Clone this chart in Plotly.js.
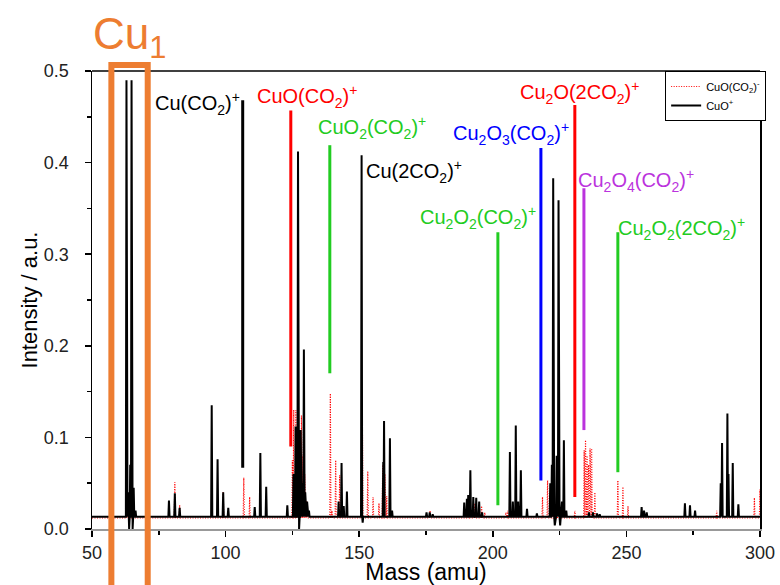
<!DOCTYPE html>
<html>
<head>
<meta charset="utf-8">
<script src="https://cdn.plot.ly/plotly-3.0.1.min.js"></script>
<style>
  html, body { margin: 0; padding: 0; background: #fff; }
  #chart { width: 780px; height: 585px; }
</style>
</head>
<body>
<div id="chart"></div>
<script>
// ---- Data ----
// CuO+ (black, solid) : peak masses (amu) and intensities (a.u.)
const cuoPlusMass = [62.9, 63.5, 63.9, 64.3, 64.8, 65.2, 65.6, 66.3,
  78.8, 81.0, 82.8, 94.8, 97.0, 99.1, 101.0, 110.9, 113.0, 115.2,
  123.1, 125.4, 126.2, 126.7, 127.1, 127.5, 128.1, 128.7, 129.3, 129.8, 130.5, 131.2,
  142.3, 143.4, 144.2, 145.4, 150.9, 151.3,
  159.0, 159.3, 161.5, 162.3, 175.2, 176.4, 177.5,
  189.3, 190.3, 190.8, 191.6, 192.7, 193.8, 194.9, 196.0,
  206.4, 207.5, 208.6, 209.5, 210.5, 212.8, 216.5,
  221.5, 222.1, 222.6, 223.2, 223.9, 224.6, 225.2, 225.9, 226.6, 227.5,
  236.0, 237.5, 239.0, 240.0, 255.7, 256.6, 257.6,
  271.9, 273.8, 275.7, 285.3, 285.8, 287.8, 288.2, 289.8, 291.9];
const cuoPlusInt = [0.490, 0.040, 0.000, 0.070, 0.490, 0.000, 0.045, 0.020,
  0.031, 0.039, 0.023, 0.135, 0.076, 0.040, 0.023, 0.024, 0.083, 0.046,
  0.026, 0.060, 0.112, 0.050, 0.412, 0.000, 0.108, 0.050, 0.196, 0.040, 0.030, 0.020,
  0.030, 0.072, 0.025, 0.041, 0.408, 0.007,
  0.073, 0.118, 0.099, 0.020, 0.018, 0.018, 0.016,
  0.029, 0.033, 0.037, 0.064, 0.035, 0.034, 0.030, 0.018,
  0.084, 0.030, 0.113, 0.030, 0.064, 0.022, 0.017,
  0.050, 0.070, 0.383, 0.004, 0.080, 0.359, 0.004, 0.030, 0.097, 0.020,
  0.018, 0.018, 0.017, 0.016, 0.024, 0.020, 0.018,
  0.028, 0.026, 0.020, 0.050, 0.094, 0.126, 0.060, 0.072, 0.027];
const cuoPlusBaseline = 0.0135;

// CuO(CO2)- (red, dotted)
const cuoCo2Mass = [63.0, 64.9, 81.0, 82.8, 99.1, 106.8, 109.0,
  125.0, 125.5, 126.3, 127.0, 127.7, 128.4, 129.0, 129.6, 130.3,
  139.2, 139.8, 141.2, 142.7, 151.2, 153.2, 155.2, 157.4, 158.8, 159.6, 160.3,
  176.5, 191.0, 193.0, 195.8, 197.0, 204.9, 205.6,
  218.6, 220.5, 222.4, 224.0, 230.7,
  234.2, 234.7, 235.3, 235.8, 236.4, 237.0, 238.2,
  246.8, 248.7, 250.6, 283.8, 297.9, 300.0];
const cuoCo2Int = [0.072, 0.050, 0.051, 0.026, 0.040, 0.056, 0.035,
  0.075, 0.130, 0.130, 0.120, 0.100, 0.124, 0.080, 0.060, 0.030,
  0.148, 0.020, 0.075, 0.059, 0.112, 0.063, 0.035, 0.028, 0.070, 0.060, 0.036,
  0.020, 0.030, 0.028, 0.025, 0.018, 0.018, 0.020,
  0.035, 0.053, 0.070, 0.060, 0.020,
  0.086, 0.097, 0.080, 0.070, 0.088, 0.088, 0.040,
  0.053, 0.046, 0.025, 0.020, 0.034, 0.043];
const cuoCo2Baseline = 0.012;

// Assignment markers (mass, line top, line bottom) and labels
const markerLabels = ['Cu(CO<sub>2</sub>)<sup>+</sup>', 'CuO(CO<sub>2</sub>)<sup>+</sup>',
  'CuO<sub>2</sub>(CO<sub>2</sub>)<sup>+</sup>', 'Cu(2CO<sub>2</sub>)<sup>+</sup>',
  'Cu<sub>2</sub>O<sub>2</sub>(CO<sub>2</sub>)<sup>+</sup>', 'Cu<sub>2</sub>O<sub>3</sub>(CO<sub>2</sub>)<sup>+</sup>',
  'Cu<sub>2</sub>O(2CO<sub>2</sub>)<sup>+</sup>', 'Cu<sub>2</sub>O<sub>4</sub>(CO<sub>2</sub>)<sup>+</sup>',
  'Cu<sub>2</sub>O<sub>2</sub>(2CO<sub>2</sub>)<sup>+</sup>'];
const markerMass = [106.4, 124.4, 139.0, null, 201.9, 218.0, 230.7, 234.1, 246.8];
const markerTop = [0.468, 0.457, 0.419, null, 0.324, 0.416, 0.463, 0.372, 0.324];
const markerBottom = [0.067, 0.090, 0.170, null, 0.026, 0.053, 0.035, 0.108, 0.062];

// ---- Build stick-spectrum traces from the peak tables ----
function spectrum(mass, inten, base, hw) {
  const idx = mass.map((m, i) => i).sort((a, b) => mass[a] - mass[b]);
  const xs = [50], ys = [base];
  idx.forEach(i => {
    xs.push(mass[i] - hw, mass[i], mass[i] + hw);
    ys.push(base, inten[i], base);
  });
  xs.push(300); ys.push(base);
  return {x: xs, y: ys};
}
const red = spectrum(cuoCo2Mass, cuoCo2Int, cuoCo2Baseline, 0.22);
const blk = spectrum(cuoPlusMass, cuoPlusInt, cuoPlusBaseline, 0.22);

const FONT = 'Liberation Sans, Arial, sans-serif';
const colors = ['#000000', '#ff0000', '#22cc22', '#000000', '#22cc22', '#0000ff', '#ff0000', '#bb33dd', '#22cc22'];
// label anchor positions (data coords) and alignment
const labelPos = [
  {x: 105.6, y: 0.465, xa: 'right'},
  {x: 111.5, y: 0.472, xa: 'left'},
  {x: 134.3, y: 0.438, xa: 'left'},
  {x: 152.2, y: 0.390, xa: 'left'},
  {x: 172.3, y: 0.340, xa: 'left'},
  {x: 184.8, y: 0.432, xa: 'left'},
  {x: 209.8, y: 0.477, xa: 'left'},
  {x: 231.5, y: 0.380, xa: 'left'},
  {x: 246.5, y: 0.328, xa: 'left'}
];

const shapes = [];
const annotations = [];
markerLabels.forEach((t, i) => {
  if (markerMass[i] !== null) {
    shapes.push({type: 'line', xref: 'x', yref: 'y', x0: markerMass[i], x1: markerMass[i],
      y0: markerBottom[i], y1: markerTop[i], line: {color: colors[i], width: 3}, layer: 'above'});
  }
  annotations.push({text: t, x: labelPos[i].x, y: labelPos[i].y, xref: 'x', yref: 'y',
    xanchor: labelPos[i].xa, yanchor: 'middle', showarrow: false,
    font: {family: FONT, size: 20, color: colors[i]}, borderpad: 0});
});

// top border
shapes.push({type: 'line', xref: 'paper', yref: 'paper', x0: 0, x1: 1, y0: 1, y1: 1,
  line: {color: '#000', width: 1.5}});
// orange Cu1 frame
shapes.push({type: 'rect', xref: 'paper', yref: 'paper', x0: 0.029, x1: 0.0834, y0: -0.3, y1: 1.013,
  line: {color: '#ED7D31', width: 6}, layer: 'above'});
annotations.push({text: 'Cu<sub>1</sub>', xref: 'paper', yref: 'paper', x: 0.056, y: 1.075,
  xanchor: 'center', yanchor: 'middle', showarrow: false,
  font: {family: FONT, size: 44, color: '#ED7D31'}});

const data = [
  {x: red.x, y: red.y, type: 'scatter', mode: 'lines', name: 'CuO(CO<sub>2</sub>)<sup>-</sup>',
   line: {color: '#ff0000', width: 1.2, dash: '1px,1.5px'}},
  {x: blk.x, y: blk.y, type: 'scatter', mode: 'lines', name: 'CuO<sup>+</sup>',
   line: {color: '#000000', width: 2}}
];

const layout = {
  width: 780, height: 585,
  margin: {l: 92, r: 20, t: 71, b: 56},
  paper_bgcolor: '#fff', plot_bgcolor: '#fff',
  font: {family: FONT, color: '#222'},
  showlegend: true,
  legend: {x: 0.858, y: 1, xanchor: 'left', yanchor: 'top', bgcolor: '#fff',
    bordercolor: '#000', borderwidth: 1, font: {family: FONT, size: 11, color: '#000'},
    tracegroupgap: 0, itemwidth: 30},
  xaxis: {range: [50, 300], tickmode: 'linear', tick0: 50, dtick: 50, ticks: 'outside', ticklen: 6,
    tickcolor: '#000', tickwidth: 1.5, showgrid: false, zeroline: false, showline: true,
    linecolor: '#999', linewidth: 2, tickfont: {family: FONT, size: 18, color: '#222'},
    minor: {dtick: 25, ticks: 'outside', ticklen: 4, tickcolor: '#000', showgrid: false},
    title: {text: 'Mass (amu)', font: {family: FONT, size: 23, color: '#000'}, standoff: 2}},
  yaxis: {range: [0, 0.5], tickmode: 'linear', tick0: 0, dtick: 0.1, tickformat: '.1f',
    ticks: 'outside', ticklen: 6, tickcolor: '#000', tickwidth: 1.5, showgrid: false, zeroline: false,
    showline: true, linecolor: '#000', linewidth: 1.5, mirror: true, ticklabelstandoff: 12,
    tickfont: {family: FONT, size: 18, color: '#222'},
    minor: {dtick: 0.05, ticks: 'outside', ticklen: 4, tickcolor: '#000', showgrid: false},
    title: {text: 'Intensity / a.u.', font: {family: FONT, size: 22, color: '#000'}, standoff: 0}},
  shapes: shapes,
  annotations: annotations
};

Plotly.newPlot('chart', data, layout, {displayModeBar: false, staticPlot: true});
</script>
</body>
</html>
